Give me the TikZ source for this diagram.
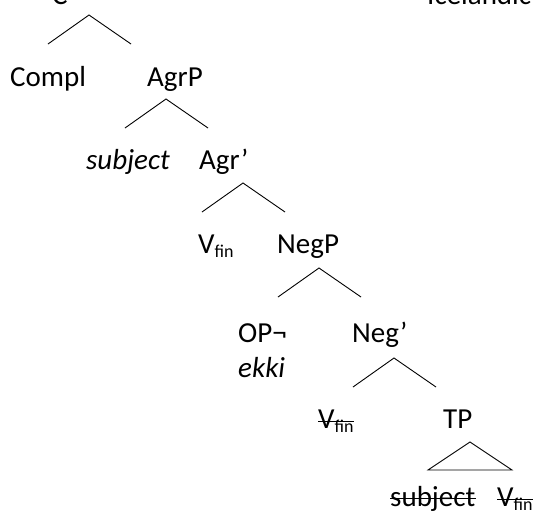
\documentclass[tikz,border=0pt]{standalone}
\usepackage{fontspec}
\setmainfont{Carlito}
\usetikzlibrary{positioning}
\tikzset{treelabel/.style={anchor=base west,inner sep=0pt,font=\fontsize{29}{34}\selectfont},
    branchline/.style={line width=0.9pt},
    strikeline/.style={line width=1pt}
}
\newcommand{\fin}{\raisebox{-0.14em}{\fontsize{18}{18}\selectfont fin}}

\begin{document}
\begin{tikzpicture}[x=1pt,y=-1pt]

\useasboundingbox (0,0) rectangle (535,515);
\clip (0,0) rectangle (535,515);

% labels above the frame, only their feet show
\node (cbar) [treelabel] at (52,4) {C’};
\node (lang) [treelabel] at (427,4) {Icelandic};

\node (compl) [treelabel] at (10,86) {Compl};
\node (agrp) [treelabel] at (147,86) {AgrP};
\node (subj) [treelabel] at (86,169) {\itshape subject};
\node (agrbar) [treelabel] at (199,169) {Agr’};
\node (vfin) [treelabel] at (198,253) {V\fin};
\node (negp) [treelabel] at (277,253) {NegP};
\node (op) [treelabel] at (238,342) {OP¬};
\node (ekki) [treelabel] at (238,377) {\itshape ekki};
\node (negbar) [treelabel] at (352,342) {Neg’};
\node (vfinneg) [treelabel] at (318,428) {V\fin};
\node (tp) [treelabel] at (443,428) {TP};
\node (subjtp) [treelabel] at (390,506) {subject};
\node (vfintp) [treelabel] at (497,506) {V\fin};

\coordinate (b 1) at (89,15);
\coordinate (b 2) at (166,99);
\coordinate (b 3) at (243,183);
\coordinate (b 4) at (319,268);
\coordinate (b 5) at (394,358);
\coordinate (tri) at (470,442);

\foreach \b in {1,...,5}
    \draw [branchline] (b \b) ++(-41,29) -- (b \b) -- ++(42,29);

\draw [branchline] (tri) -- ++(-42,28) -- ++(84,0) -- cycle;

% struck out copies
\draw [strikeline] ([yshift=6.5pt]vfinneg.base west) -- ([yshift=6.5pt]vfinneg.base east);
\draw [strikeline] ([yshift=8pt]subjtp.base west) -- ([yshift=8pt]subjtp.base east);
\draw [strikeline] ([yshift=6.5pt]vfintp.base west) -- ([yshift=6.5pt]vfintp.base east);

\end{tikzpicture}
\end{document}
